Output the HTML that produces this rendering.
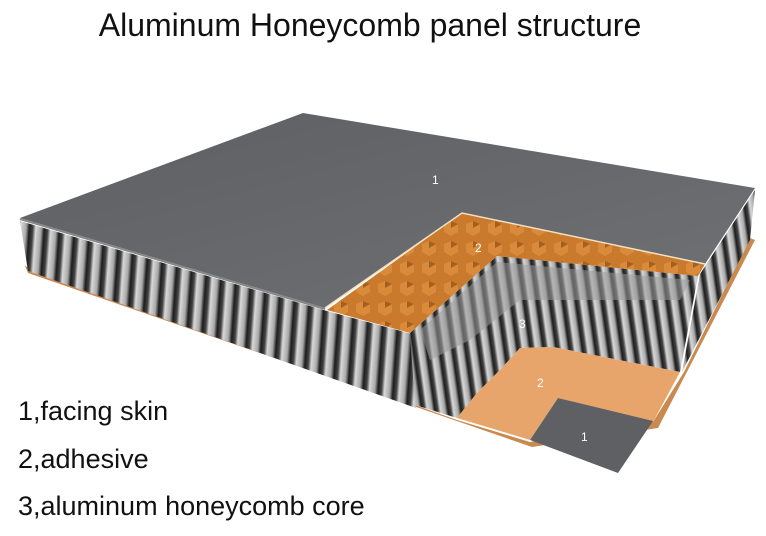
<!DOCTYPE html>
<html><head><style>
html,body{margin:0;padding:0;background:#fff;width:766px;height:536px;overflow:hidden}
</style></head><body>
<svg width="766" height="536" viewBox="0 0 766 536" xmlns="http://www.w3.org/2000/svg">
<defs>
<linearGradient id="cell" x1="0" x2="1" y1="0" y2="0">
<stop offset="0" stop-color="#1a1a1a"/><stop offset="0.25" stop-color="#444"/>
<stop offset="0.45" stop-color="#d8d8d8"/><stop offset="0.8" stop-color="#a8a8a8"/><stop offset="1" stop-color="#2a2a2a"/>
</linearGradient>
<pattern id="stripes" width="15" height="200" patternUnits="userSpaceOnUse" patternTransform="skewX(-4)">
<rect width="15" height="200" fill="url(#cell)"/>
</pattern>
<pattern id="stripes2" width="13" height="200" patternUnits="userSpaceOnUse" patternTransform="skewX(8)">
<rect width="13" height="200" fill="url(#cell)"/>
</pattern>
<linearGradient id="skin" x1="0" y1="0" x2="1" y2="1">
<stop offset="0" stop-color="#5e5f62"/><stop offset="1" stop-color="#707174"/>
</linearGradient>
<pattern id="hex" width="22" height="20" patternUnits="userSpaceOnUse">
<rect width="22" height="20" fill="#c97a2c"/>
<polygon points="4,4 11,1 18,4 18,12 11,16 4,12" fill="#d98a3a"/>
<polygon points="11,1 18,4 11,8" fill="#a5601e"/>
</pattern>
</defs>
<text x="370" y="36" font-family="Liberation Sans, sans-serif" font-size="32" text-anchor="middle" fill="#111">Aluminum Honeycomb panel structure</text>

<polygon points="25,266 457,420 530,442 653,422 684,372 750,238 755,240 658,428 532,447 28,273" fill="#c98a4f"/>
<polygon points="20,221 327,311 412,334 416,408 28,271" fill="url(#stripes)"/>
<polygon points="755,190 700,274 682,372 750,240" fill="url(#stripes2)"/>
<polygon points="410,333 497,256 698,276 680,372 553,347 520,348 500,370 477,393 457,418 415,405" fill="url(#stripes2)"/>
<polygon points="420,330 497,262 690,280 680,300 560,300 520,300 470,340 430,360" fill="#9a9a9a" opacity="0.55"/>
<polygon points="457,418 477,393 500,370 520,348 553,347 680,372 653,422 558,398 530,440" fill="#e8a56b"/>
<polygon points="558,398 653,421 618,473 530,440" fill="#5f6063"/>
<polygon points="327,310 462,213 705,264 698,276 497,256 410,333" fill="url(#hex)"/>
<polygon points="20,218 303,113 755,188 705,264 462,213 325,308" fill="url(#skin)"/>
<polyline points="325,308 462,213 705,264" fill="none" stroke="#f3e0c0" stroke-width="1.5"/>
<line x1="20" y1="219" x2="325" y2="309" stroke="#888" stroke-width="2"/>
<g font-family="Liberation Sans, sans-serif" font-size="12" fill="#fff">
<text x="432" y="184">1</text><text x="475" y="252">2</text><text x="519" y="328">3</text>
<text x="537" y="387">2</text><text x="581" y="441">1</text>
</g>
<g font-family="Liberation Sans, sans-serif" font-size="27" fill="#111">
<text x="18" y="420">1,facing skin</text>
<text x="18" y="468">2,adhesive</text>
<text x="18" y="515">3,aluminum honeycomb core</text>
</g>
</svg>
</body></html>
